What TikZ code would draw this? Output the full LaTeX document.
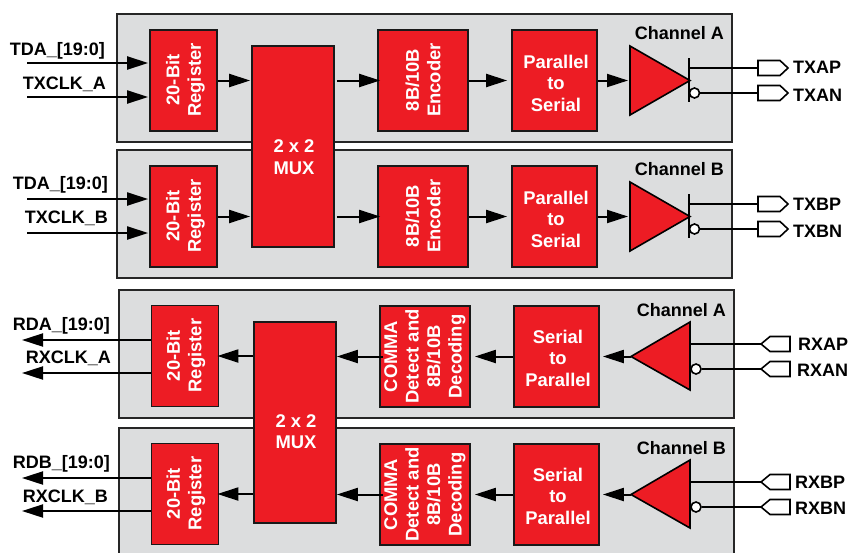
\documentclass[tikz,border=0pt]{standalone}
\usepackage{fontspec}
\setmainfont{Liberation Sans}
\usetikzlibrary{arrows.meta}
\definecolor{panelgray}{HTML}{DCDDDE}
\definecolor{blockred}{HTML}{ED1C24}
\tikzset{
  panel/.style={draw=black!85,line width=1.5pt,fill=panelgray,minimum width=615pt,minimum height=128pt,inner sep=0pt},
  block/.style={draw=black!90,line width=1.7pt,fill=blockred,inner sep=0pt},
  tall/.style={block,minimum width=67pt,minimum height=101pt},
  wide/.style={block,minimum width=90pt,minimum height=101pt},
  mid/.style={block,minimum width=85pt,minimum height=101pt},
  mux/.style={block,minimum width=82pt,minimum height=201pt},
  htext/.style={text=white,font=\bfseries\fontsize{18.4}{21.5}\selectfont,align=center,inner sep=0pt},
  vtext/.style={htext,rotate=90},
  lab/.style={text=black,font=\bfseries\fontsize{18}{20}\selectfont,inner sep=0pt},
  sig/.style={draw=black,line width=2pt,-{Triangle[length=21pt,width=13pt]},shorten >=1pt},
  wire/.style={draw=black,line width=1.6pt},
  amp/.style={draw=black,line width=1.6pt,fill=blockred,line join=miter},
  pad/.style={draw=black,line width=1.6pt,fill=white,line join=miter},
  bubble/.style={circle,draw=black,line width=1.6pt,fill=white,minimum size=10pt,inner sep=0pt},
}
\newcommand{\txchan}[2]{%
  \begin{scope}[shift={(0,#2)}]
    \node[tall] (reg#1) at (183.5,80.5) {};
    \node[vtext] (regt#1) at (185.5,80) {20-Bit\\Register};
    \node[wide] (enc#1) at (423,80.5) {};
    \node[vtext] (enct#1) at (423,80) {8B/10B\\Encoder};
    \node[mid] (pts#1) at (554.5,80.5) {};
    \node[htext] (ptst#1) at (556,83) {Parallel\\to\\Serial};
    \coordinate (ampw#1) at (630,80.5);
    \coordinate (ampe#1) at (690,80.5);
    \draw[amp] (630,46) -- (ampe#1) -- (630,115) -- cycle;
    \draw[wire] (689,58) -- (689,102);
    \node[bubble] (bub#1) at (694.5,93) {};
    \coordinate (inn#1) at (27,63);
    \coordinate (clk#1) at (27,97);
    \coordinate (dp#1) at (758,68);
    \coordinate (dn#1) at (758,93);
    \coordinate (stp#1) at (689,68);
    \draw[pad] (dp#1) ++(0,-7.5) -- ++(22,0) -- ++(8,7.5) -- ++(-8,7.5) -- ++(-22,0) -- cycle;
    \draw[pad] (dn#1) ++(0,-7.5) -- ++(22,0) -- ++(8,7.5) -- ++(-8,7.5) -- ++(-22,0) -- cycle;
    \draw[wire] (stp#1) -- (dp#1);
    \draw[wire] (bub#1) -- (dn#1);
    \draw[sig] (inn#1) -- (inn#1 -| reg#1.west);
    \draw[sig] (clk#1) -- (clk#1 -| reg#1.west);
    \draw[sig] (reg#1.east) -- (reg#1.east -| muxt.west);
    \draw[sig,shorten <=2pt,shorten >=-3pt] (reg#1.east -| muxt.east) -- (reg#1.east -| enc#1.west);
    \draw[sig,shorten >=4pt] (enc#1.east) -- (pts#1.west);
    \draw[sig,shorten >=2pt] (pts#1.east) -- (ampw#1);
  \end{scope}}
\newcommand{\rxchan}[2]{%
  \begin{scope}[shift={(0,#2)}]
    \node[tall] (reg#1) at (185,356) {};
    \node[vtext] (regt#1) at (186,355.5) {20-Bit\\Register};
    \node[wide] (dec#1) at (425,356.5) {};
    \node[vtext] (dect#1) at (425,356.5) {COMMA\\Detect and\\8B/10B\\Decoding};
    \node[mid] (stp#1) at (556.5,356.5) {};
    \node[htext] (stpt#1) at (558,358) {Serial\\to\\Parallel};
    \coordinate (ampw#1) at (631,356.5);
    \draw[amp] (690,322) -- (ampw#1) -- (690,390) -- cycle;
    \node[bubble] (bub#1) at (696,369) {};
    \coordinate (outd#1) at (21,340);
    \coordinate (outc#1) at (21,373);
    \coordinate (dp#1) at (761,344);
    \coordinate (dn#1) at (761,369);
    \coordinate (stb#1) at (690,344);
    \draw[pad] (dp#1) -- ++(9,-7.5) -- ++(20,0) -- ++(0,15) -- ++(-20,0) -- cycle;
    \draw[pad] (dn#1) -- ++(9,-7.5) -- ++(20,0) -- ++(0,15) -- ++(-20,0) -- cycle;
    \draw[wire] (dp#1) -- (stb#1);
    \draw[wire] (dn#1) -- (bub#1);
    \draw[sig] (outd#1 -| reg#1.west) -- (outd#1);
    \draw[sig] (outc#1 -| reg#1.west) -- (outc#1);
    \draw[sig,shorten >=-2pt] (reg#1.east -| muxr.west) -- (reg#1.east);
    \draw[sig,shorten <=-4pt,shorten >=0pt] (dec#1.west) -- (dec#1.west -| muxr.east);
    \draw[sig,shorten >=4pt] (stp#1.west) -- (dec#1.east);
    \draw[sig,shorten >=3pt] (ampw#1) -- (stp#1.east);
  \end{scope}}
\begin{document}
\begin{tikzpicture}[x=1pt,y=-1pt]
  \useasboundingbox (0,0) rectangle (850,552);
  \clip (0,0) rectangle (850,552);
  \node[panel] (pta) at (424.5,78) {};
  \node[panel] (ptb) at (424.5,214) {};
  \node[panel] (pra) at (426.5,354) {};
  \node[panel] (prb) at (426.5,492) {};
  \node[mux] (muxt) at (293,146.5) {};
  \node[mux] (muxr) at (295,422.5) {};
  \node[htext] (muxtt) at (294,157) {2 x 2\\MUX};
  \node[htext] (muxrt) at (296,431.5) {2 x 2\\MUX};
  \txchan{A}{0}
  \txchan{B}{136}
  \rxchan{C}{0}
  \rxchan{D}{138}
  \node[lab,anchor=east] (chta) at (724,33) {Channel A};
  \node[lab,anchor=east] (chtb) at (724,169) {Channel B};
  \node[lab,anchor=east] (chra) at (726,310) {Channel A};
  \node[lab,anchor=east] (chrb) at (726,448) {Channel B};
  \node[lab,anchor=east] (l1) at (105,51) {TDA\_[19:0]};
  \node[lab,anchor=east] (l2) at (106,84) {TXCLK\_A};
  \node[lab,anchor=east] (l3) at (108,185) {TDA\_[19:0]};
  \node[lab,anchor=east] (l4) at (108,218) {TXCLK\_B};
  \node[lab,anchor=east] (l5) at (110,326) {RDA\_[19:0]};
  \node[lab,anchor=east] (l6) at (111,358) {RXCLK\_A};
  \node[lab,anchor=east] (l7) at (110,464) {RDB\_[19:0]};
  \node[lab,anchor=east] (l8) at (108,497) {RXCLK\_B};
  \node[lab,anchor=west] (r1) at (793,67) {TXAP};
  \node[lab,anchor=west] (r2) at (793,95) {TXAN};
  \node[lab,anchor=west] (r3) at (793,204) {TXBP};
  \node[lab,anchor=west] (r4) at (793,231) {TXBN};
  \node[lab,anchor=west] (r5) at (798,344) {RXAP};
  \node[lab,anchor=west] (r6) at (797,370) {RXAN};
  \node[lab,anchor=west] (r7) at (795,482) {RXBP};
  \node[lab,anchor=west] (r8) at (795,508) {RXBN};
\end{tikzpicture}
\end{document}
